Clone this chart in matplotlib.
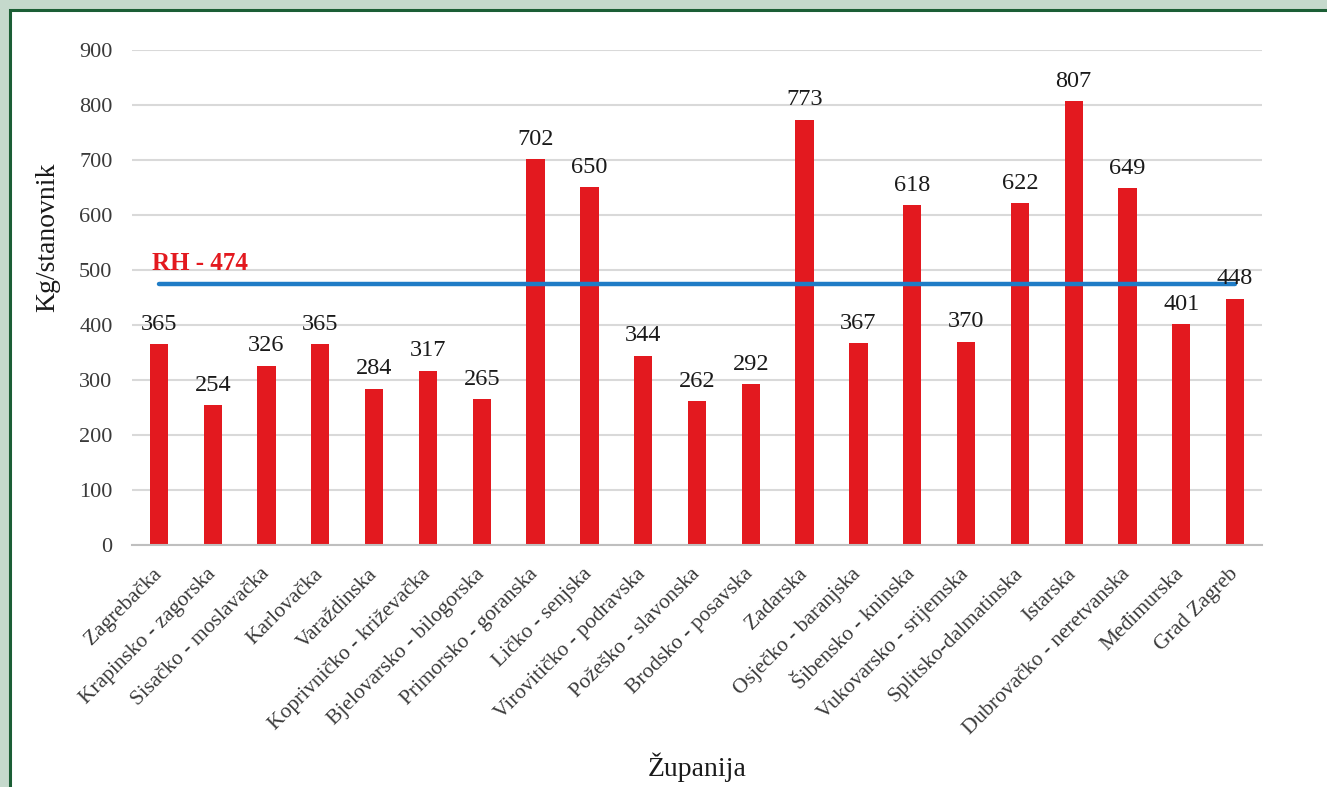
import matplotlib
matplotlib.use("Agg")
import matplotlib.pyplot as plt
from matplotlib.patches import Rectangle
import numpy as np

counties = ["Zagrebačka", "Krapinsko - zagorska", "Sisačko - moslavačka", "Karlovačka",
            "Varaždinska", "Koprivničko - križevačka", "Bjelovarsko - bilogorska",
            "Primorsko - goranska", "Ličko - senjska", "Virovitičko - podravska",
            "Požeško - slavonska", "Brodsko - posavska", "Zadarska", "Osječko - baranjska",
            "Šibensko - kninska", "Vukovarsko - srijemska", "Splitsko-dalmatinska",
            "Istarska", "Dubrovačko - neretvanska", "Međimurska", "Grad Zagreb"]
values = [365, 254, 326, 365, 284, 317, 265, 702, 650, 344, 262, 292, 773, 367,
          618, 370, 622, 807, 649, 401, 448]
national_avg = 474
national_label = "RH - 474"
yticks = [0, 100, 200, 300, 400, 500, 600, 700, 800, 900]

plt.rcParams['font.family'] = ['Liberation Serif', 'DejaVu Serif']

W, H = 1327, 787
fig = plt.figure(figsize=(W / 100, H / 100), dpi=100)
fig.patch.set_facecolor('#c5d9cc')
fig.patches.append(Rectangle((10 / W, -0.05), 1.1, 1 - 10 / H + 0.05,
                             transform=fig.transFigure, facecolor='white',
                             edgecolor='#1b5e35', linewidth=2.2, zorder=-10))

ax = fig.add_axes([132 / W, 1 - 545 / H, (1262 - 132) / W, (545 - 50) / H])
ax.set_facecolor('none')

x = np.arange(len(values))
ax.bar(x, values, width=0.34, color='#e3191f', zorder=2)
ax.plot([x[0], x[-1]], [national_avg, national_avg], color='#1f7cc6', lw=3.2,
        solid_capstyle='round', zorder=3)
ax.text(x[0] - 0.12, national_avg + 16, national_label, color='#e3191f',
        fontsize=18, fontweight='bold', ha='left', va='bottom', zorder=4)

for xi, v in zip(x, values):
    ax.text(xi, v + 17, str(v), ha='center', va='bottom', fontsize=17.5,
            color='#1a1a1a', zorder=4)

ax.set_xlim(-0.5, len(values) - 0.5)
ax.set_ylim(0, 900)
ax.set_yticks(yticks)
ax.yaxis.grid(True, color='#d9d9d9', linewidth=1.5, zorder=0)
ax.set_axisbelow(True)
for s in ['top', 'right', 'left']:
    ax.spines[s].set_visible(False)
ax.spines['bottom'].set_color('#bfbfbf')
ax.spines['bottom'].set_linewidth(1.5)
ax.tick_params(axis='y', length=0, labelsize=16, labelcolor='#3a3a3a', pad=14)
ax.tick_params(axis='x', length=0, labelsize=15.5, labelcolor='#3a3a3a', pad=19)
ax.set_xticks(x)
ax.set_xticklabels(counties, rotation=45, ha='right', va='center',
                   rotation_mode='anchor')

ax.set_ylabel('Kg/stanovnik', fontsize=20, color='#1a1a1a')
ax.yaxis.set_label_coords(-0.075, 0.622)
ax.set_xlabel('Županija', fontsize=20, color='#1a1a1a')
ax.xaxis.set_label_coords((697 - 132) / (1262 - 132), -(767 - 545) / 495)
ax.xaxis.label.set_va('center')
ax.yaxis.label.set_va('center')

fig.savefig('out.png', dpi=100, facecolor=fig.get_facecolor())
